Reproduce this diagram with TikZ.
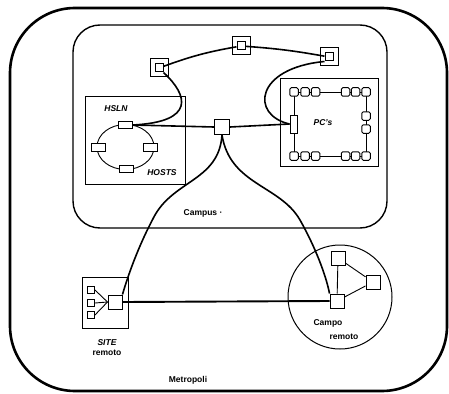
\documentclass[tikz,border=0pt]{standalone}
\usepackage{fontspec}
\setmainfont{Liberation Sans}
\begin{document}
\begin{tikzpicture}[x=1pt,y=-1pt,
  lbl/.style={font=\fontsize{8.5}{9}\selectfont\bfseries, inner sep=0pt},
  ilbl/.style={font=\fontsize{8.5}{9}\selectfont\bfseries\itshape, inner sep=0pt},
  sw/.style={draw, line width=1pt, fill=white, minimum size=14pt, inner sep=0pt},
  swout/.style={draw, line width=1pt, fill=white, minimum size=18pt, inner sep=0pt},
  swin/.style={draw, line width=1pt, fill=white, minimum size=8pt, inner sep=0pt},
  host/.style={draw, line width=1pt, fill=white, minimum width=14pt, minimum height=7.5pt, inner sep=0pt},
  pc/.style={draw, line width=1pt, fill=white, minimum size=8.5pt, inner sep=0pt, rounded corners=1.5pt},
  small/.style={draw, line width=0.9pt, fill=white, minimum size=7pt, inner sep=0pt},
  link/.style={line width=1.6pt},
  thin/.style={line width=0.9pt},
  area/.style={draw, line width=1pt}
]
\useasboundingbox (0,0) rectangle (449,393);
% outer metropoli
\draw[line width=2.6pt, rounded corners=65pt] (10,8) rectangle (447,391);
% campus
\draw[line width=1.4pt, rounded corners=27pt] (73,25) rectangle (387,228);
% HSLN box
\node[area, minimum width=100pt, minimum height=88pt, anchor=north west] (hslnbox) at (85,96) {};
\draw[thin] (125.5,147) ellipse [x radius=28.5pt, y radius=22.5pt];
\node[host] (h1) at (125,125) {};
\node[host] (h2) at (98.5,147.5) {};
\node[host] (h3) at (150,147.5) {};
\node[host] (h4) at (126.5,169) {};
\node[ilbl] (thsln) at (116,109) {HSLN};
\node[ilbl] (thosts) at (162,173) {HOSTS};
% PC box
\node[area, minimum width=98pt, minimum height=88pt, anchor=north west] (pcbox) at (280,78) {};
\coordinate (r1) at (294,92);
\coordinate (r2) at (366,92);
\coordinate (r3) at (366,156);
\coordinate (r4) at (294,156);
\draw[thin] (r1) -- (r2) -- (r3) -- (r4) -- cycle;
\foreach \i/\x in {1/294,2/305,3/315.5,4/345.5,5/355.5,6/366}{
  \node[pc] (pt\i) at (\x,92) {};
  \node[pc] (pb\i) at (\x,156) {};
}
\node[pc] (pr1) at (366,116) {};
\node[pc] (pr2) at (366,129) {};
\node[draw, line width=1pt, fill=white, minimum width=7pt, minimum height=18pt, inner sep=0pt] (pcl) at (293.5,124) {};
\node[ilbl] (tpc) at (323,123) {PC's};
% top switches
\node[swout] (Ao) at (159,68) {};
\node[swin] (A) at (159,68) {};
\node[swout] (Bo) at (241,46) {};
\node[swin] (B) at (241,46) {};
\node[swout] (Co) at (329,57) {};
\node[swin] (C) at (329,57) {};
\draw[link] (A) to[bend left=5] (B);
\draw[link] (B) to[bend left=3] (C);
\draw[link] (A.south east) .. controls (188,95) and (196,122) .. (h1.east);
\draw[link] (C.south west) .. controls (255,68) and (250,115) .. (pcl.west);
% central switch
\node[sw, minimum size=15pt] (S) at (222,127) {};
\draw[link] (h1.east) -- (S.west);
\draw[link] (S.east) -- (pcl.west);
\node[lbl] (tcampus) at (203,213) {Campus ·};
% SITE remoto
\node[area, minimum width=46pt, minimum height=51pt, anchor=north west] (sitebox) at (82,277) {};
\node[sw] (R) at (115,302) {};
\node[small] (s1) at (91,290) {};
\node[small] (s2) at (91,303) {};
\node[small] (s3) at (91,315) {};
\draw[thin] (s1.east) -- (R.west);
\draw[thin] (s2.east) -- (R.west);
\draw[thin] (s3.east) -- (R.west);
\node[ilbl] (tsite) at (107,343) {SITE};
\node[lbl] (tsrem) at (107,353) {remoto};
% Campo remoto
\draw[line width=1pt] (340,297) circle [radius=52pt];
\node[sw] (K) at (337,301) {};
\node[sw] (K1) at (338,258) {};
\node[sw] (K2) at (373,282) {};
\draw[thin] (K1) -- (K);
\draw[thin] (K1) -- (K2);
\draw[thin] (K2) -- (K);
\node[lbl] (tcampo) at (328,323) {Campo};
\node[lbl] (tcrem) at (344,337) {remoto};
% long links
\draw[link] (S.south) .. controls (219,180) and (175,180) .. (155,215) .. controls (137,248) and (126,282) .. (R.north east);
\draw[link] (S.south) .. controls (230,185) and (280,185) .. (300,220) .. controls (318,252) and (327,280) .. (K.north west);
\draw[line width=1.9pt] (R.east) -- (K.west);
\node[lbl] (tmetro) at (188,380) {Metropoli};
\end{tikzpicture}
\end{document}
